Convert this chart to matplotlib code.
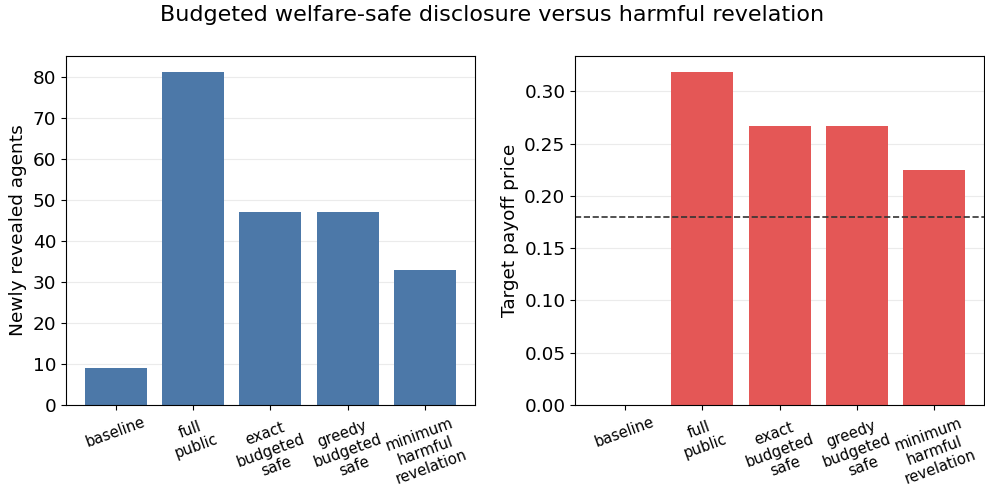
import matplotlib
matplotlib.use('Agg')
import matplotlib.pyplot as plt

policies = ['baseline', 'full\npublic', 'exact\nbudgeted\nsafe',
            'greedy\nbudgeted\nsafe', 'minimum\nharmful\nrevelation']
revealed = [9, 81, 47, 47, 33]
price = [0.0, 0.318, 0.267, 0.267, 0.225]
threshold = 0.18

fig, (ax1, ax2) = plt.subplots(1, 2, figsize=(9.85, 4.9), dpi=100)
fig.subplots_adjust(left=0.067, right=0.999, top=0.886, bottom=0.1735, wspace=0.245)

x = range(len(policies))

ax1.bar(x, revealed, color='#4c78a8', width=0.8)
ax1.set_ylabel('Newly revealed agents', fontsize=13.3)
ax1.set_ylim(0, max(revealed) * 1.05)

ax2.bar(x, price, color='#e45756', width=0.8)
ax2.axhline(threshold, color='#333333', linestyle='--', linewidth=1.2)
ax2.set_ylabel('Target payoff price', fontsize=13.3)
ax2.set_ylim(0, max(price) * 1.05)

for ax in (ax1, ax2):
    ax.set_xticks(list(x))
    ax.set_xticklabels(policies, rotation=20, fontsize=10.7)
    ax.tick_params(axis='y', labelsize=13.3)
    ax.grid(axis='y', alpha=0.25)
    ax.set_axisbelow(True)

fig.suptitle('Budgeted welfare-safe disclosure versus harmful revelation', fontsize=16, y=0.99)

fig.savefig('out.png', dpi=100)
